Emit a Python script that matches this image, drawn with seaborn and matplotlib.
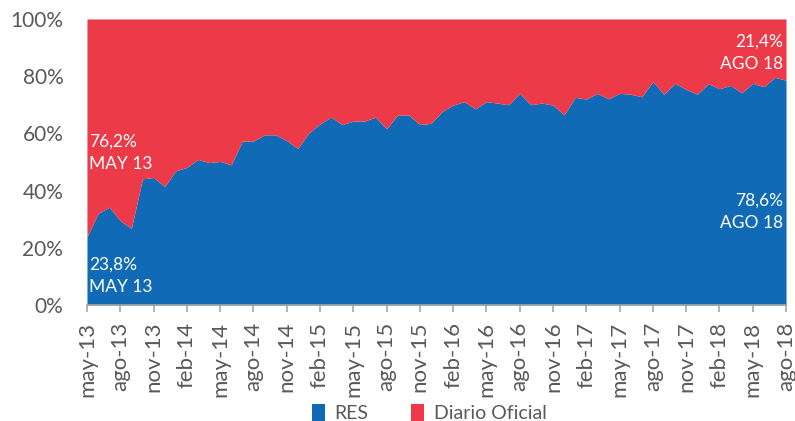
import numpy as np
import pandas as pd
import matplotlib
matplotlib.use("Agg")
import matplotlib.pyplot as plt
from matplotlib.patches import Patch
from matplotlib.ticker import FuncFormatter
import seaborn as sns

# share of publications per month, may-13 .. ago-18
res = [23.8, 32.0, 34.2, 29.5, 26.8, 44.1, 44.6, 41.4, 46.9, 48.1,
       50.9, 49.8, 50.2, 49.0, 57.3, 57.3, 59.5, 59.5, 57.5, 54.7,
       60.2, 63.3, 65.7, 63.1, 64.3, 64.3, 65.7, 61.6, 66.4, 66.4,
       63.1, 63.5, 67.6, 69.9, 71.1, 68.6, 71.1, 70.6, 70.0, 74.0,
       70.0, 70.6, 69.9, 66.5, 72.6, 72.0, 74.0, 72.1, 74.0, 73.7,
       72.8, 78.1, 73.7, 77.5, 75.4, 73.7, 77.4, 75.6, 76.8, 74.2,
       77.5, 76.3, 79.6, 78.6]
diario = [76.2, 68.0, 65.8, 70.5, 73.2, 55.9, 55.4, 58.6, 53.1, 51.9,
          49.1, 50.2, 49.8, 51.0, 42.7, 42.7, 40.5, 40.5, 42.5, 45.3,
          39.8, 36.7, 34.3, 36.9, 35.7, 35.7, 34.3, 38.4, 33.6, 33.6,
          36.9, 36.5, 32.4, 30.1, 28.9, 31.4, 28.9, 29.4, 30.0, 26.0,
          30.0, 29.4, 30.1, 33.5, 27.4, 28.0, 26.0, 27.9, 26.0, 26.3,
          27.2, 21.9, 26.3, 22.5, 24.6, 26.3, 22.6, 24.4, 23.2, 25.8,
          22.5, 23.7, 20.4, 21.4]
tick_labels = ["may-13", "ago-13", "nov-13", "feb-14", "may-14", "ago-14",
               "nov-14", "feb-15", "may-15", "ago-15", "nov-15", "feb-16",
               "may-16", "ago-16", "nov-16", "feb-17", "may-17", "ago-17",
               "nov-17", "feb-18", "may-18", "ago-18"]
series = ["RES", "Diario Oficial"]
colors = {"RES": "#106AB5", "Diario Oficial": "#EC3A48"}

n = len(res)
df = pd.concat([
    pd.DataFrame({"mes": np.arange(n), "serie": "RES", "valor": res}),
    pd.DataFrame({"mes": np.arange(n), "serie": "Diario Oficial", "valor": diario}),
])

sns.set_style("white")
plt.rcParams["font.family"] = ["Lato", "DejaVu Sans"]
gray = "#595959"

fig = plt.figure(figsize=(7.95, 4.21), dpi=100)
ax = fig.add_axes([0.1094, 0.2755, 0.8793, 0.6794])

sns.histplot(data=df, x="mes", hue="serie", weights="valor",
             hue_order=series[::-1], palette=colors,
             multiple="fill", element="poly", discrete=True,
             alpha=1, linewidth=0, legend=False, ax=ax)

ax.set_xlim(0, n - 1)
ax.set_ylim(0, 1)
ax.set_xlabel("")
ax.set_ylabel("")
ax.set_yticks(np.linspace(0, 1, 6))
ax.yaxis.set_major_formatter(FuncFormatter(lambda v, p: f"{v:.0%}"))
ax.set_xticks(np.arange(0, n, 3))
ax.set_xticklabels(tick_labels, rotation=90)
ax.tick_params(axis="y", length=0, labelsize=15, labelcolor=gray, pad=17)
ax.tick_params(axis="x", length=5, width=1.2, color="#A6A6A6",
               labelsize=16, labelcolor=gray, pad=7, bottom=True)
for s in ["top", "right", "left"]:
    ax.spines[s].set_visible(False)
ax.spines["bottom"].set_color("#A6A6A6")
ax.spines["bottom"].set_linewidth(1.2)

lab = dict(color="white", fontsize=12.5, linespacing=1.45, va="top")
ax.text(0.2, 0.598, "76,2%\nMAY 13", ha="left", **lab)
ax.text(0.2, 0.168, "23,8%\nMAY 13", ha="left", **lab)
ax.text(n - 1.25, 0.948, "21,4%\nAGO 18", ha="right", **lab)
ax.text(n - 1.25, 0.392, "78,6%\nAGO 18", ha="right", **lab)

handles = [Patch(facecolor=colors[s], edgecolor="none") for s in series]
fig.legend(handles, series, loc="lower center", bbox_to_anchor=(0.54, -0.045),
           ncol=2, frameon=False, fontsize=14, labelcolor=gray,
           handlelength=0.65, handleheight=1.0, handletextpad=0.5,
           columnspacing=2.2)

fig.savefig("out.png", dpi=100)
